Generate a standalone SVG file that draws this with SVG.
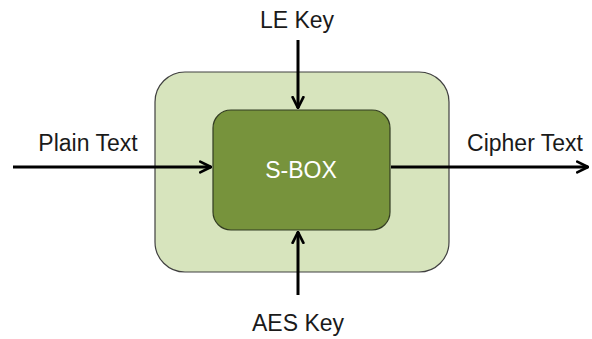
<svg xmlns="http://www.w3.org/2000/svg" width="592" height="339" viewBox="0 0 592 339">
  <style>
    .lbl { font-family: "Liberation Sans", Arial, sans-serif; font-size: 23px; fill: #1a1a1a; }
    .wire { stroke: #000; stroke-width: 3; fill: none; marker-end: url(#open); }
  </style>
  <defs>
    <marker id="open" viewBox="0 0 10 10" refX="9" refY="5" markerWidth="4.5" markerHeight="4.5" orient="auto" markerUnits="strokeWidth">
      <path d="M1,1 L9,5 L1,9" fill="none" stroke="#000" stroke-width="2" stroke-linecap="round" stroke-linejoin="round"/>
    </marker>
  </defs>
  <rect width="592" height="339" fill="#fff"/>

  <g id="outer">
    <rect x="155" y="72" width="294" height="200" rx="30" ry="30" fill="#d7e4bd" stroke="#404040" stroke-width="1.2"/>
  </g>
  <g id="sbox">
    <rect x="213" y="110" width="177" height="120" rx="18" ry="18" fill="#77933c" stroke="#333d22" stroke-width="1.2"/>
    <text x="301" y="178" text-anchor="middle" font-family="Liberation Sans, Arial, sans-serif" font-size="23" fill="#fff">S-BOX</text>
  </g>

  <g id="labels">
    <text class="lbl" x="88" y="151" text-anchor="middle">Plain Text</text>
    <text class="lbl" x="525" y="151" text-anchor="middle">Cipher Text</text>
    <text class="lbl" x="297" y="28" text-anchor="middle">LE Key</text>
    <text class="lbl" x="298" y="331" text-anchor="middle">AES Key</text>
  </g>

  <g id="connectors">
    <line class="wire" x1="13" y1="167" x2="211" y2="167"/>
    <line class="wire" x1="391" y1="167" x2="588" y2="167"/>
    <line class="wire" x1="298" y1="40" x2="298" y2="108"/>
    <line class="wire" x1="298" y1="295" x2="298" y2="232"/>
  </g>
</svg>
